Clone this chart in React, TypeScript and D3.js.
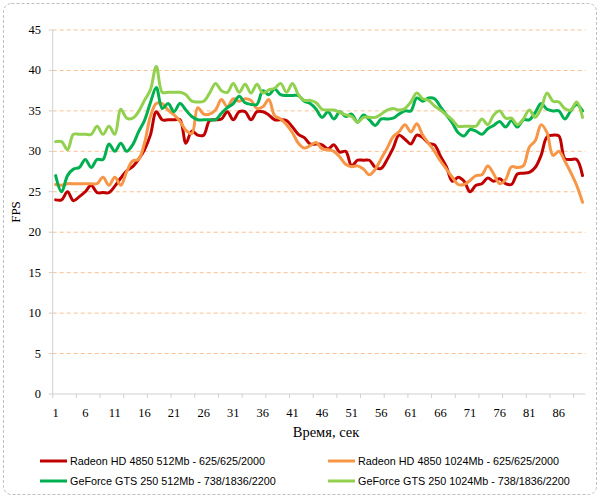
import React from 'react';
import * as d3 from 'd3';

// seconds 1..90 on the category axis
const seconds = d3.range(1, 91);
const xTickLabels = [1, 6, 11, 16, 21, 26, 31, 36, 41, 46, 51, 56, 61, 66, 71, 76, 81, 86];
const yTicks = [0, 5, 10, 15, 20, 25, 30, 35, 40, 45];

const radeon512 = [
  24.0, 24.0, 25.0, 23.9, 24.4, 25.0, 25.8, 24.9, 24.9, 24.9,
  25.7, 26.7, 27.6, 28.1, 29.0, 30.2, 32.0, 34.9, 33.9, 33.9,
  33.9, 33.9, 31.0, 32.5, 32.0, 32.0, 33.8, 33.9, 34.0, 34.9,
  33.9, 34.9, 34.9, 33.9, 34.9, 34.9, 34.5, 33.9, 33.9, 33.8,
  33.0, 32.1, 31.7, 30.9, 30.9, 30.8, 30.3, 30.8, 29.9, 30.0,
  28.2, 28.9, 28.9, 28.9, 28.0, 27.9, 29.0, 30.4, 32.0, 31.5,
  30.9, 32.0, 31.7, 31.0, 30.8, 29.4, 28.1, 26.3, 26.8, 26.3,
  25.0, 25.8, 26.0, 26.7, 26.3, 26.6, 26.0, 25.9, 27.2, 27.3,
  27.4, 28.0, 29.5, 31.8, 32.0, 31.9, 29.1, 29.0, 29.0, 27.0,
];

const radeon1024 = [
  25.9, 25.8, 26.0, 26.0, 26.0, 26.0, 26.0, 26.0, 26.8, 25.8,
  26.8, 25.8, 27.5, 28.8, 29.0, 31.0, 34.3, 35.9, 35.9, 35.1,
  34.5, 33.7, 32.6, 32.2, 35.4, 34.6, 34.6, 35.1, 36.4, 35.5,
  36.5, 36.2, 36.5, 36.3, 35.3, 35.5, 36.4, 34.4, 34.0, 33.3,
  32.3, 31.0, 30.4, 30.7, 31.1, 30.3, 30.2, 30.0, 29.3, 28.4,
  28.1, 28.2, 27.8, 27.1, 27.8, 29.1, 30.4, 31.8, 32.4, 33.3,
  32.4, 33.4, 32.0, 31.0, 30.0, 28.8, 27.8, 26.8, 25.9, 25.9,
  26.4, 27.0, 27.1, 28.2, 27.2, 26.0, 26.5, 28.1, 28.0, 28.2,
  30.5, 31.3, 33.3, 32.3, 29.5, 30.0, 28.8, 27.4, 25.8, 23.7,
];

const geforce512 = [
  27.0, 25.0, 27.0, 27.8, 28.0, 29.0, 28.0, 29.0, 29.0, 30.9,
  30.0, 31.0, 30.0, 30.8, 32.4, 33.8, 36.0, 37.9, 35.3, 35.9,
  34.9, 35.9, 35.1, 34.3, 33.9, 33.9, 33.9, 33.9, 34.7, 35.4,
  35.9, 36.8, 36.0, 35.8, 35.8, 37.5, 37.0, 37.7, 37.0, 36.9,
  36.9, 36.9, 36.2, 35.9, 35.2, 34.2, 34.9, 34.0, 34.9, 34.3,
  34.6, 33.6, 34.5, 33.9, 33.2, 34.0, 34.0, 34.1, 34.6, 35.0,
  35.0, 36.6, 36.2, 36.6, 36.5, 35.5, 34.5, 33.5, 32.3, 31.9,
  32.7, 32.5, 32.1, 32.8, 33.2, 33.7, 33.0, 33.8, 33.0, 33.9,
  33.9, 34.8, 35.9, 35.2, 35.0, 35.0, 34.0, 35.0, 35.8, 35.0,
];

const geforce1024 = [
  31.2, 31.2, 30.2, 32.1, 32.1, 32.1, 32.1, 33.1, 32.1, 33.1,
  32.1, 35.2, 34.1, 34.1, 34.9, 36.3, 37.6, 40.5, 37.3, 37.3,
  37.3, 37.3, 37.0, 36.2, 36.1, 36.2, 37.2, 38.4, 37.5, 37.3,
  38.4, 37.3, 38.3, 37.2, 38.3, 37.2, 37.6, 37.8, 38.4, 37.3,
  38.4, 37.0, 36.3, 36.3, 36.0, 35.2, 35.1, 35.1, 34.8, 34.5,
  34.3, 33.6, 34.2, 34.2, 34.2, 34.6, 35.1, 35.3, 35.1, 35.3,
  36.1, 37.2, 36.5, 36.3, 35.6, 35.1, 34.5, 33.9, 33.1, 33.1,
  33.1, 33.1, 34.0, 33.3, 34.5, 35.0, 34.1, 34.1, 33.3, 34.0,
  35.1, 34.2, 35.3, 37.2, 36.2, 36.1, 35.3, 35.1, 36.1, 34.2,
];

const seriesNames = [
  'Radeon HD 4850 512Mb  - 625/625/2000',
  'Radeon HD 4850 1024Mb  - 625/625/2000',
  'GeForce GTS 250 512Mb - 738/1836/2200',
  'GeForce GTS 250 1024Mb - 738/1836/2200',
];
const seriesColors = ['#c00000', '#f79646', '#00b050', '#92d050'];
const seriesValues = [radeon512, radeon1024, geforce512, geforce1024];

export default function App() {
  const left = 52.7;
  const right = 585.5;
  const top = 30;
  const bottom = 394;

  const x = d3.scaleBand<number>().domain(seconds).range([left, right]);
  const bw = x.bandwidth();
  const cx = (s: number) => (x(s) as number) + bw / 2;
  const y = d3.scaleLinear().domain([0, 45]).range([bottom, top]);

  const line = d3
    .line<number>()
    .x((_, i) => cx(seconds[i]))
    .y((d) => y(d))
    .curve(d3.curveCatmullRom.alpha(0.5));

  // tick marks every 4 categories
  const xTickMarks = d3.range(0, seconds.length + 1, 4).map((k) => left + k * bw);

  const legendCols = [40, 328];
  const legendRows = [461, 481];

  return (
    <svg
      width={600}
      height={499}
      style={{ position: 'absolute', left: 0, top: 0, background: '#fff' }}
    >
      <rect x={3.5} y={3.5} width={593} height={491} rx={8} fill="#fff"
        stroke="#bfbfbf" strokeDasharray="3,2" />

      {/* gridlines */}
      {yTicks.filter((t) => t > 0).map((t) => (
        <line key={t} x1={left} x2={right} y1={y(t)} y2={y(t)}
          stroke="#fac090" strokeWidth={1} strokeDasharray="4,3" />
      ))}

      {/* axes */}
      <line x1={left} x2={left} y1={top} y2={bottom} stroke="#d0d0d0" />
      <line x1={left} x2={right} y1={bottom} y2={bottom} stroke="#d0d0d0" />
      {yTicks.map((t) => (
        <g key={t}>
          <line x1={left - 4} x2={left} y1={y(t)} y2={y(t)} stroke="#d0d0d0" />
          <text x={41} y={y(t) + 4} textAnchor="end" fontFamily="Liberation Serif"
            fontSize={12.5} fill="#000">{t}</text>
        </g>
      ))}
      {xTickMarks.map((tx, i) => (
        <line key={i} x1={tx} x2={tx} y1={bottom} y2={bottom + 4} stroke="#d0d0d0" />
      ))}
      {xTickLabels.map((s) => (
        <text key={s} x={cx(s)} y={417} textAnchor="middle" fontFamily="Liberation Serif"
          fontSize={12.5} fill="#000">{s}</text>
      ))}

      <text x={326} y={437} textAnchor="middle" fontFamily="Liberation Serif"
        fontSize={14.5} fill="#000">Время, сек</text>
      <text transform={`translate(20,${(top + bottom) / 2}) rotate(-90)`} textAnchor="middle"
        fontFamily="Liberation Serif" fontSize={13} fill="#000">FPS</text>

      {/* series */}
      {seriesValues.map((vals, i) => (
        <path key={i} d={line(vals) || ''} fill="none" stroke={seriesColors[i]}
          strokeWidth={3} strokeLinejoin="round" strokeLinecap="round" />
      ))}

      {/* legend */}
      {seriesNames.map((name, i) => {
        const lx = legendCols[i % 2];
        const ly = legendRows[Math.floor(i / 2)];
        return (
          <g key={name}>
            <line x1={lx} x2={lx + 27} y1={ly} y2={ly} stroke={seriesColors[i]} strokeWidth={3} />
            <text x={lx + 30} y={ly + 4} fontFamily="Liberation Sans" fontSize={10.8} fill="#000">
              {name}
            </text>
          </g>
        );
      })}
    </svg>
  );
}
